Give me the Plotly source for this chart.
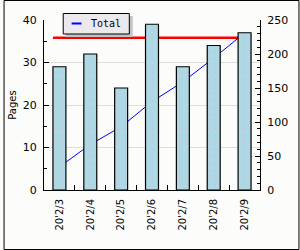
import plotly.graph_objects as go

categories = ["20'2/3", "20'2/4", "20'2/5", "20'2/6", "20'2/7", "20'2/8", "20'2/9"]
pages = [29, 32, 24, 39, 29, 34, 37]
total_line = [34, 67, 93, 130, 159, 194, 231]
total_level = 224
legend_label = "Total"

W, H = 300, 250
ML, MR, MT, MB = 41, 40, 20, 60
PW, PH = W - ML - MR, H - MT - MB
BAR_W = 0.42


def px(x):
    return (x - ML) / PW


def py(y):
    return (H - MB - y) / PH


fig = go.Figure()

fig.add_trace(go.Scatter(
    x=categories, y=total_line, mode="lines", name=legend_label,
    line=dict(color="#0000ff", width=1), yaxis="y", showlegend=False,
))

fig.add_trace(go.Bar(
    x=categories, y=pages, yaxis="y2", width=BAR_W, showlegend=False,
    marker=dict(color="#add8e6", line=dict(color="black", width=1.2),
                pattern=dict(shape=".", fgcolor="#e0b8bc", bgcolor="#add8e6",
                             size=7, solidity=0.12)),
))

fig.add_shape(type="line", xref="x", yref="y",
              x0=-BAR_W / 2, x1=len(categories) - 1 + BAR_W / 2,
              y0=total_level, y1=total_level,
              line=dict(color="#ff0000", width=2.6), layer="between")

# outer border
fig.add_shape(type="rect", xref="paper", yref="paper",
              x0=px(0.5), x1=px(W - 0.5), y0=py(H - 0.5), y1=py(0.5),
              line=dict(color="black", width=1), layer="above")

# manual legend: shadow, box, key line, label
fig.add_shape(type="rect", xref="paper", yref="paper",
              x0=px(63), x1=px(131), y0=py(37), y1=py(16),
              line=dict(width=0), fillcolor="#c4c4c4", layer="above")
fig.add_shape(type="rect", xref="paper", yref="paper",
              x0=px(60.5), x1=px(127.5), y0=py(34), y1=py(13.5),
              line=dict(color="black", width=1), fillcolor="#ebe8ee", layer="above")
fig.add_shape(type="line", xref="paper", yref="paper",
              x0=px(69), x1=px(79), y0=py(23.5), y1=py(23.5),
              line=dict(color="#0000ff", width=2), layer="above")
fig.add_annotation(xref="paper", yref="paper", x=px(86.5), y=py(23.5),
                   xanchor="left", yanchor="middle", showarrow=False,
                   text=legend_label,
                   font=dict(family="DejaVu Sans Mono", size=10, color="black"))

font = "DejaVu Sans"
fig.update_layout(
    width=W, height=H,
    margin=dict(l=ML, r=MR, t=MT, b=MB, pad=0),
    paper_bgcolor="#fcfcfa", plot_bgcolor="#fcfcfa",
    font=dict(family=font, size=10, color="black"),
    showlegend=False,
    xaxis=dict(type="category", range=[-0.5, len(categories) - 0.5],
               showline=True, linecolor="black", linewidth=1,
               ticks="inside", tickson="boundaries", ticklen=5, tickcolor="black",
               tickangle=-90, tickfont=dict(size=10), ticklabelstandoff=4,
               showgrid=False, zeroline=False),
    yaxis=dict(side="right", range=[0, 250], dtick=50, tick0=0,
               showline=True, linecolor="black", linewidth=1,
               ticks="inside", ticklen=5, tickcolor="black",
               minor=dict(dtick=10, ticks="inside", ticklen=3, tickcolor="black", showgrid=False),
               showgrid=False, zeroline=False, tickfont=dict(size=11),
               ticklabelstandoff=4),
    yaxis2=dict(overlaying="y", side="left", range=[0, 40], dtick=10, tick0=0,
                showline=True, linecolor="black", linewidth=1,
                ticks="inside", ticklen=5, tickcolor="black",
                minor=dict(dtick=5, ticks="inside", ticklen=3, tickcolor="black", showgrid=False),
                showgrid=True, gridcolor="#dddddd", gridwidth=1, zeroline=False,
                tickfont=dict(size=11), ticklabelstandoff=4,
                title=dict(text="Pages", font=dict(size=10), standoff=4)),
)

fig.write_html("out.html")
